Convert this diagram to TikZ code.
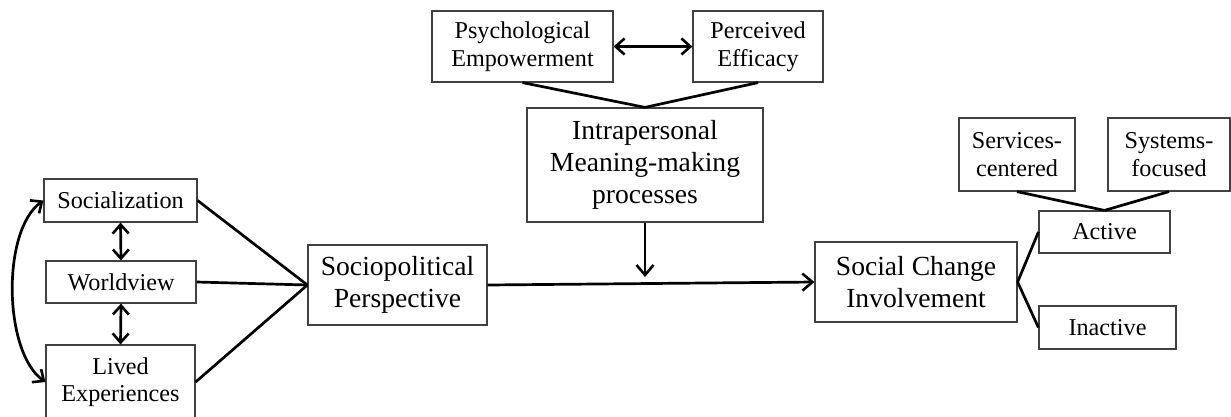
\documentclass[tikz,border=0pt]{standalone}
\usepackage{fontspec}
\setmainfont{Liberation Serif}
\usetikzlibrary{arrows.meta}
\begin{document}
\begin{tikzpicture}[x=1pt,y=-1pt,
  box/.style={draw=black!75, line width=1.2pt, inner sep=0pt, align=center, fill=white},
  smallbox/.style={box, font=\fontsize{24.2}{27.5}\selectfont},
  bigbox/.style={box, font=\fontsize{27.6}{32}\selectfont},
  conn/.style={line width=2.7pt, black},
  arr/.style={conn, -{Straight Barb[length=10pt,width=17pt,line width=2.6pt]}},
  darr/.style={conn, {Straight Barb[length=9pt,width=16pt,line width=2.6pt]}-{Straight Barb[length=9pt,width=16pt,line width=2.6pt]}}
]
\useasboundingbox (0,0) rectangle (1231,416);
% left column
\node[smallbox, minimum width=153pt, minimum height=43pt] (soc) at (120.5,200.5) {Socialization};
\node[smallbox, minimum width=150pt, minimum height=42pt] (wv) at (121,282) {Worldview};
\node[smallbox, minimum width=149pt, minimum height=74pt] (lived) at (120.5,382) {Lived\\Experiences};
% center
\node[bigbox, minimum width=179pt, minimum height=80pt] (socpol) at (397.5,285) {Sociopolitical\\Perspective};
\node[smallbox, minimum width=181pt, minimum height=71pt] (psy) at (522.5,46.5) {Psychological\\Empowerment};
\node[smallbox, minimum width=130pt, minimum height=71pt] (eff) at (758,46.5) {Perceived\\Efficacy};
\node[bigbox, minimum width=236pt, minimum height=114pt] (intra) at (645,165) {Intrapersonal\\Meaning-making\\processes};
% right
\node[bigbox, minimum width=202pt, minimum height=80pt] (scin) at (916,282) {Social Change\\Involvement};
\node[smallbox, minimum width=131pt, minimum height=42pt] (act) at (1104.5,232) {Active};
\node[smallbox, minimum width=137pt, minimum height=43pt] (inact) at (1107.5,327.5) {Inactive};
\node[smallbox, minimum width=116pt, minimum height=73pt] (serv) at (1017,154.5) {Services-\\centered};
\node[smallbox, minimum width=122pt, minimum height=73pt] (sys) at (1169,154.5) {Systems-\\focused};
\coordinate (tip) at (645,277);

% connectors
\draw[conn] (soc.east) -- (socpol.west);
\draw[conn] (wv.east) -- (socpol.west);
\draw[conn] (lived.east) -- (socpol.west);
\draw[darr] (soc.west) .. controls +(-42,30) and +(-42,-30) .. (lived.west);
\draw[darr] (soc.south) -- (wv.north);
\draw[darr] (wv.south) -- (lived.north);
\draw[darr] (psy.east) -- (eff.west);
\draw[conn] (psy.south) -- (intra.north);
\draw[conn] (eff.south) -- (intra.north);
\draw[arr] (intra.south) -- (tip);
\draw[arr] (socpol.east) -- (scin.west);
\draw[conn] (scin.east) -- (act.west);
\draw[conn] (scin.east) -- (inact.west);
\draw[conn] (serv.south) -- (act.north);
\draw[conn] (sys.south) -- (act.north);
\end{tikzpicture}
\end{document}
